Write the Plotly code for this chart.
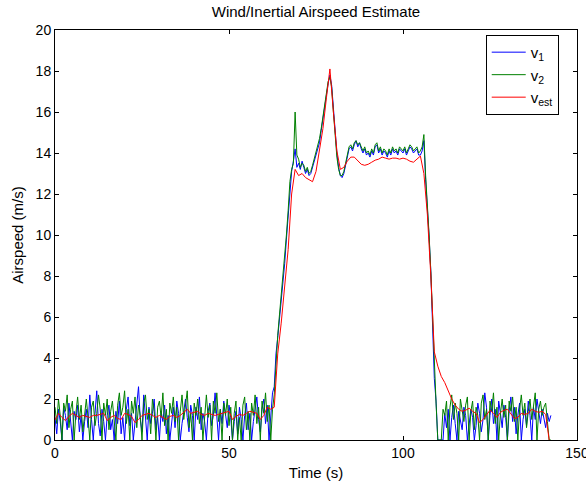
import numpy as np
import plotly.graph_objects as go

# time grid for the measured speeds (0.5 s sampling) and for the estimate (1 s sampling)
t_meas = np.round(np.arange(0, 143.0, 0.5), 1)
t_est = np.arange(0, 143, 1)

v1 = [
    1.1, 0.3, 1.5, 0.9, 0.0, 1.6, 1.2, 0.5, 1.8, 0.8, 0.0, 1.4, 1.0, 1.7, 0.4, 1.2, 0.0, 0.9, 1.5, 0.6,
    2.2, 1.0, 0.0, 1.3, 2.4, 0.8, 0.2, 1.5, 0.9, 0.0, 1.2, 1.7, 0.5, 1.0, 0.0, 1.4, 0.8, 1.9, 0.3, 1.1,
    0.0, 1.5, 2.1, 0.7, 1.3, 0.0, 0.9, 1.8, 2.6, 1.0, 0.4, 2.2, 1.2, 0.0, 1.6, 0.8, 1.3, 2.0, 0.5, 1.1,
    0.0, 1.4, 0.9, 1.7, 0.3, 1.2, 0.0, 1.0, 1.6, 0.6, 1.9, 1.3, 0.0, 0.8, 1.5, 2.0, 1.1, 0.4, 1.7, 1.2,
    0.0, 1.6, 1.0, 2.1, 0.5, 1.3, 0.9, 0.0, 1.4, 1.8, 0.7, 1.2, 2.3, 1.0, 0.0, 1.5, 0.8, 1.9, 1.3, 0.6,
    1.7, 1.1, 0.0, 0.9, 1.4, 0.3, 1.6, 1.0, 0.0, 1.2, 1.8, 0.5, 1.3, 0.0, 0.9, 1.6, 2.1, 1.0, 0.4, 1.5,
    2.0, 0.8, 1.7, 0.0, 1.2, 2.3, 2.6, 4.2, 5.0, 5.9, 6.8, 7.6, 8.6, 9.8, 11.0, 12.4, 13.1, 13.6, 14.2, 13.3,
    13.5, 13.2, 13.6, 13.3, 13.0, 13.2, 12.9, 13.0, 13.3, 13.6, 13.9, 14.2, 14.5, 15.1, 15.7, 16.2, 16.8, 17.4, 17.8, 17.3,
    16.2, 15.0, 14.0, 13.3, 12.9, 12.8, 13.0, 13.4, 13.9, 14.2, 14.3, 14.1, 14.4, 14.6, 14.3, 14.5, 14.2, 14.0, 14.2, 13.9,
    14.0, 13.8, 14.1, 13.9, 14.3, 14.4, 14.0, 14.2, 13.9, 14.1, 14.0, 13.8, 14.1, 13.9, 14.2, 14.0, 14.1, 13.9, 14.2, 14.1,
    14.0, 14.2, 13.9, 14.1, 14.3, 14.2, 14.0, 14.1, 14.2, 13.9, 13.9, 14.1, 14.6, 12.7, 11.5, 9.9, 8.2, 5.6, 3.0, 1.9,
    0.0, 0.0, 0.0, 0.0, 1.3, 0.6, 1.5, 0.0, 1.1, 1.7, 0.8, 0.0, 1.4, 1.0, 0.5, 1.6, 1.2, 0.0, 0.9, 1.5,
    1.1, 0.0, 0.7, 1.8, 1.3, 0.4, 1.0, 2.3, 1.6, 0.0, 1.2, 2.0, 0.8, 1.5, 0.0, 1.9, 1.3, 0.6, 1.7, 1.1,
    0.0, 1.4, 2.1, 0.9, 1.6, 0.3, 1.2, 1.8, 0.0, 1.0, 1.5, 0.7, 1.9, 1.2, 0.0, 1.6, 1.0, 2.0, 1.4, 0.8,
    1.5, 1.1, 0.6, 1.3, 0.9, 1.2,
]

v2 = [
    1.6, 0.8, 2.0, 1.2, 0.0, 1.8, 1.4, 2.2, 0.6, 1.5, 1.9, 0.0, 1.3, 2.1, 1.0, 1.7, 0.4, 1.4, 2.0, 1.1,
    0.0, 1.6, 1.9, 0.7, 1.3, 2.2, 1.5, 0.0, 1.8, 1.2, 2.0, 0.5, 1.4, 1.9, 0.9, 0.0, 1.7, 2.3, 1.2, 1.6,
    2.4, 0.8, 1.5, 0.0, 1.9, 1.3, 2.1, 0.6, 1.7, 1.2, 0.0, 1.8, 2.2, 1.0, 1.5, 0.3, 2.0, 1.4, 0.0, 1.6,
    1.9, 1.1, 2.3, 0.7, 1.5, 0.0, 1.8, 1.3, 2.1, 0.9, 1.6, 0.0, 1.4, 2.2, 1.0, 1.7, 2.4, 0.6, 1.3, 0.0,
    1.8, 1.2, 2.0, 0.8, 1.6, 0.0, 1.4, 2.2, 1.1, 1.7, 0.0, 1.9, 1.3, 2.3, 0.9, 1.5, 0.0, 1.8, 1.2, 2.0,
    0.7, 1.6, 0.0, 1.3, 1.9, 0.0, 1.1, 0.0, 1.7, 2.1, 0.5, 1.4, 0.0, 1.8, 1.2, 2.2, 0.8, 1.6, 0.0, 1.9,
    1.3, 2.3, 0.9, 1.7, 0.0, 1.5, 2.2, 3.9, 5.1, 6.1, 7.0, 7.9, 8.9, 10.0, 11.2, 12.6, 13.2, 13.5, 16.0, 13.9,
    13.7, 13.3, 13.5, 13.4, 13.1, 13.3, 13.0, 13.1, 13.4, 13.7, 14.0, 14.3, 14.7, 15.2, 15.8, 16.3, 16.9, 17.5, 17.7, 17.2,
    16.0, 14.8, 13.8, 13.2, 12.9, 12.9, 13.1, 13.5, 14.0, 14.3, 14.4, 14.2, 14.5, 14.6, 14.4, 14.5, 14.3, 14.1, 14.3, 14.0,
    14.1, 13.9, 14.2, 14.0, 14.4, 14.5, 14.1, 14.3, 14.0, 14.2, 14.1, 13.9, 14.2, 14.0, 14.3, 14.1, 14.2, 14.0, 14.3, 14.2,
    14.1, 14.3, 14.0, 14.2, 14.4, 14.3, 14.1, 14.2, 14.3, 14.0, 14.1, 14.3, 14.9, 12.9, 11.6, 10.0, 8.2, 5.8, 3.2, 1.8,
    0.0, 0.0, 0.0, 1.5, 1.2, 1.9, 0.0, 1.6, 2.2, 1.0, 1.8, 1.3, 0.0, 2.0, 1.5, 0.9, 1.7, 2.1, 0.0, 1.4,
    1.9, 0.5, 1.6, 1.2, 0.0, 1.8, 2.2, 1.0, 1.5, 0.0, 1.9, 1.4, 2.3, 0.8, 1.6, 0.0, 1.3, 2.0, 1.1, 1.7,
    0.0, 1.9, 1.4, 2.1, 0.9, 1.6, 0.0, 1.5, 2.2, 1.2, 1.8, 0.6, 1.4, 2.0, 1.0, 1.7, 2.3, 0.0, 1.5, 1.9,
    1.2, 1.6, 1.8, 0.9, 0.0, 0.0,
]

v_est = [
    0.98, 1.3, 1.1, 0.95, 1.15, 1.3, 1.2, 1.1, 1.2, 1.15,
    1.1, 1.2, 1.2, 1.25, 1.3, 0.95, 1.1, 1.2, 1.05, 1.0,
    1.3, 1.25, 1.15, 0.85, 1.0, 1.2, 1.25, 1.3, 1.2, 1.1,
    1.2, 1.1, 1.0, 1.15, 1.2, 1.1, 1.2, 1.35, 1.5, 1.3,
    1.35, 1.4, 1.25, 1.2, 1.3, 1.25, 1.2, 1.25, 1.3, 1.35,
    1.4, 1.0, 1.15, 1.25, 1.2, 1.3, 1.4, 1.35, 1.3, 1.0,
    1.2, 1.6, 1.5, 1.6, 4.2, 5.7, 7.5, 9.3, 12.0, 13.2,
    12.9, 13.0, 12.8, 12.7, 12.6, 13.1, 14.1, 15.2, 16.7, 18.1,
    16.0, 14.1, 13.2, 13.3, 13.6, 13.8, 13.8, 13.6, 13.45, 13.4,
    13.45, 13.55, 13.65, 13.7, 13.8, 13.75, 13.7, 13.75, 13.75, 13.7,
    13.75, 13.7, 13.6, 13.55, 13.7, 13.85, 13.0, 11.0, 8.0, 4.3,
    3.6, 3.1, 2.8, 2.4, 2.0, 1.7, 1.5, 1.4, 1.45, 1.55,
    1.4, 1.3, 0.85, 1.0, 1.2, 1.45, 1.3, 1.1, 1.35, 1.45,
    1.5, 1.25, 1.05, 1.1, 1.3, 1.25, 1.3, 1.5, 1.4, 1.35,
    1.4, 1.25, 0.0,
]

x_ticks = [0, 50, 100, 150]
y_ticks = [0, 2, 4, 6, 8, 10, 12, 14, 16, 18, 20]

FONT = "Liberation Sans, Arial, sans-serif"
FS = 14
FS_LABEL = 15

fig = go.Figure()
fig.add_trace(go.Scatter(x=t_meas, y=v1, mode="lines", name="v<sub>1</sub>",
                         line=dict(color="#0000ff", width=1)))
fig.add_trace(go.Scatter(x=t_meas, y=v2, mode="lines", name="v<sub>2</sub>",
                         line=dict(color="#008000", width=1)))
fig.add_trace(go.Scatter(x=t_est, y=v_est, mode="lines", name="v<sub>est</sub>",
                         line=dict(color="#ff0000", width=1)))

axis_common = dict(showline=True, linecolor="black", linewidth=1, mirror="ticks",
                   ticks="inside", ticklen=4, tickcolor="black", showgrid=False,
                   zeroline=False, automargin=False, ticklabeloverflow="allow",
                   tickfont=dict(size=FS, color="black", family=FONT))

fig.update_layout(
    width=586, height=485,
    margin=dict(l=55, r=9, t=30, b=45, autoexpand=False),
    paper_bgcolor="white", plot_bgcolor="white",
    font=dict(family=FONT, color="black", size=FS),
    title=dict(text="Wind/Inertial Airspeed Estimate", x=(55 + 577) / 2 / 586, xanchor="center",
               xref="container", yref="container", y=1 - 12 / 485, yanchor="middle",
               font=dict(size=FS_LABEL, family=FONT)),
    xaxis=dict(range=[0, 150], tickvals=x_ticks,
               title=dict(text="Time (s)", standoff=7, font=dict(size=FS_LABEL)), **axis_common),
    yaxis=dict(range=[0, 20], tickvals=y_ticks,
               title=dict(text="Airspeed (m/s)", standoff=8, font=dict(size=FS_LABEL)), **axis_common),
    legend=dict(x=0.965, y=0.988, xanchor="right", yanchor="top",
                bgcolor="white", bordercolor="black", borderwidth=1,
                font=dict(size=15, family=FONT), itemwidth=34, tracegroupgap=0),
    showlegend=True,
)

fig.write_html("out.html", config={"displayModeBar": False},
               post_script="document.body.style.margin='0';")
